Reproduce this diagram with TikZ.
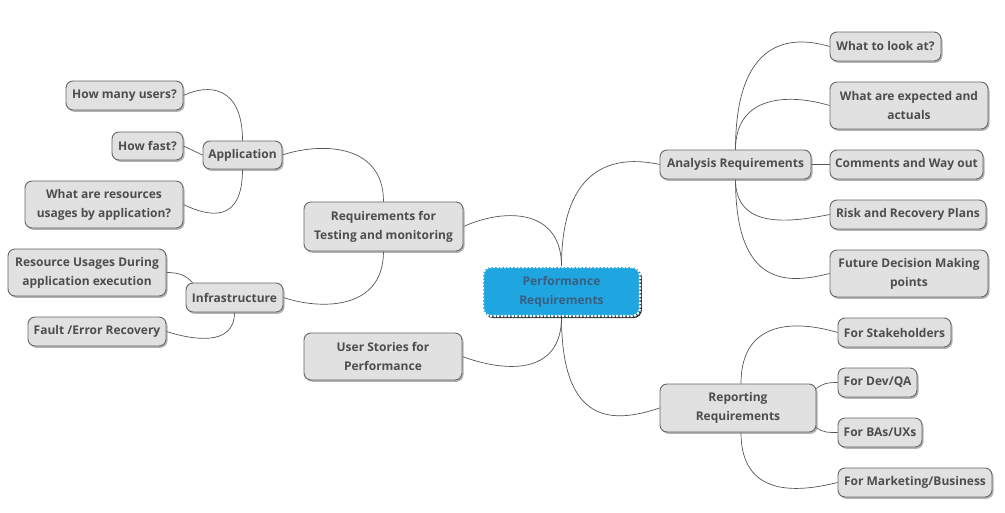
\documentclass[tikz,border=0pt]{standalone}
\usepackage{fontspec}
\setmainfont{Open Sans}
\usetikzlibrary{shadows,backgrounds}
\definecolor{boxfill}{HTML}{E1E1E1}
\definecolor{boxline}{HTML}{666666}
\definecolor{txt}{HTML}{4D4D4D}
\definecolor{linkc}{HTML}{555555}
\definecolor{cblue}{HTML}{1FA5DF}
\definecolor{ctxt}{HTML}{3A5F82}
\begin{document}
\begin{tikzpicture}[x=1pt,y=-1pt,
  box/.style={draw=boxline, fill=boxfill, rounded corners=7pt, line width=0.9pt,
    text=txt, font=\fontsize{12}{19}\selectfont\bfseries, align=center, inner sep=0pt,
    drop shadow={shadow xshift=1.5pt, shadow yshift=-1.8pt, fill=black!50, opacity=0.6}},
  central/.style={box, fill=cblue, draw=white, dash pattern=on 2.2pt off 1.4pt, line width=2.2pt,
    text=ctxt, rounded corners=8pt,
    drop shadow={shadow xshift=1.8pt, shadow yshift=-2pt, fill=black!85, opacity=0.9}},
  link/.style={draw=linkc, line width=0.7pt}]
\useasboundingbox (0,0) rectangle (1005,512);

\node[central, minimum width=157pt, minimum height=49pt] (c) at (561.5,291.5) {Performance\\Requirements};

\node[box, minimum width=159pt, minimum height=49pt] (rtm) at (383.5,226.5) {Requirements for\\Testing and monitoring};
\node[box, minimum width=158pt, minimum height=47pt] (usp) at (383,356.5) {User Stories for\\Performance};

\node[box, minimum width=79pt, minimum height=28pt] (app) at (242.5,155) {Application};
\node[box, minimum width=117pt, minimum height=29pt] (hmu) at (124.5,95.5) {How many users?};
\node[box, minimum width=71pt, minimum height=28pt] (hf) at (147.5,146) {How fast?};
\node[box, minimum width=158pt, minimum height=47pt] (wru) at (104,204.5) {What are resources\\usages by application?};

\node[box, minimum width=97pt, minimum height=29pt] (inf) at (234.5,297.5) {Infrastructure};
\node[box, minimum width=158pt, minimum height=47pt] (rud) at (87,272.5) {Resource Usages During\\application execution};
\node[box, minimum width=138pt, minimum height=29pt] (fer) at (97,331.5) {Fault /Error Recovery};

\node[box, minimum width=151pt, minimum height=29pt] (ar) at (735.5,164.5) {Analysis Requirements};
\node[box, minimum width=111pt, minimum height=29pt] (wtl) at (885.5,46.5) {What to look at?};
\node[box, minimum width=158pt, minimum height=47pt] (wae) at (909,105.5) {What are expected and\\actuals};
\node[box, minimum width=153pt, minimum height=29pt] (cwo) at (906.5,164.5) {Comments and Way out};
\node[box, minimum width=156pt, minimum height=29pt] (rrp) at (908,214.5) {Risk and Recovery Plans};
\node[box, minimum width=158pt, minimum height=47pt] (fdm) at (909,273.5) {Future Decision Making\\points};

\node[box, minimum width=156pt, minimum height=48pt] (rr) at (738,408) {Reporting\\Requirements};
\node[box, minimum width=113pt, minimum height=29pt] (fs) at (894.5,332.5) {For Stakeholders};
\node[box, minimum width=79pt, minimum height=29pt] (fdq) at (877.5,382.5) {For Dev/QA};
\node[box, minimum width=84pt, minimum height=29pt] (fba) at (880,432.5) {For BAs/UXs};
\node[box, minimum width=154pt, minimum height=29pt] (fmb) at (915,482.5) {For Marketing/Business};

\begin{scope}[on background layer]
\draw[link] (c.north) .. controls +(0,-55) and +(45,-20) .. (rtm.east);
\draw[link] (c.north) .. controls +(0,-100) and +(-45,-10) .. (ar.west);
\draw[link] (c.south) .. controls +(0,60) and +(40,15) .. (usp.east);
\draw[link] (c.south) .. controls +(0,110) and +(-45,15) .. (rr.west);

\draw[link] (rtm.north) .. controls +(0,-60) and +(35,-12) .. (app.east);
\draw[link] (rtm.south) .. controls +(0,60) and +(35,12) .. (inf.east);

\draw[link] (app.north) .. controls +(0,-55) and +(25,-12) .. (hmu.east);
\draw[link] (hf.east) -- (app.west);
\draw[link] (app.south) .. controls +(0,55) and +(25,12) .. (wru.east);

\draw[link] (rud.east) .. controls +(15,0) and +(-6,-6) .. ([xshift=7pt]inf.north west);
\draw[link] (inf.south) .. controls +(0,35) and +(25,8) .. (fer.east);

\draw[link] (ar.north) .. controls +(0,-110) and +(-40,-12) .. (wtl.west);
\draw[link] (ar.north) .. controls +(0,-55) and +(-40,-12) .. (wae.west);
\draw[link] (ar.east) -- (cwo.west);
\draw[link] (ar.south) .. controls +(0,50) and +(-40,8) .. (rrp.west);
\draw[link] (ar.south) .. controls +(0,110) and +(-40,10) .. (fdm.west);

\draw[link] ([xshift=3pt]rr.north) .. controls +(0,-65) and +(-40,-12) .. (fs.west);
\draw[link] ([yshift=-5pt]rr.north east) .. controls +(6,-5) and +(-10,0) .. (fdq.west);
\draw[link] ([yshift=5pt]rr.south east) .. controls +(6,5) and +(-10,0) .. (fba.west);
\draw[link] ([xshift=3pt]rr.south) .. controls +(0,65) and +(-40,10) .. (fmb.west);
\end{scope}
\end{tikzpicture}
\end{document}
